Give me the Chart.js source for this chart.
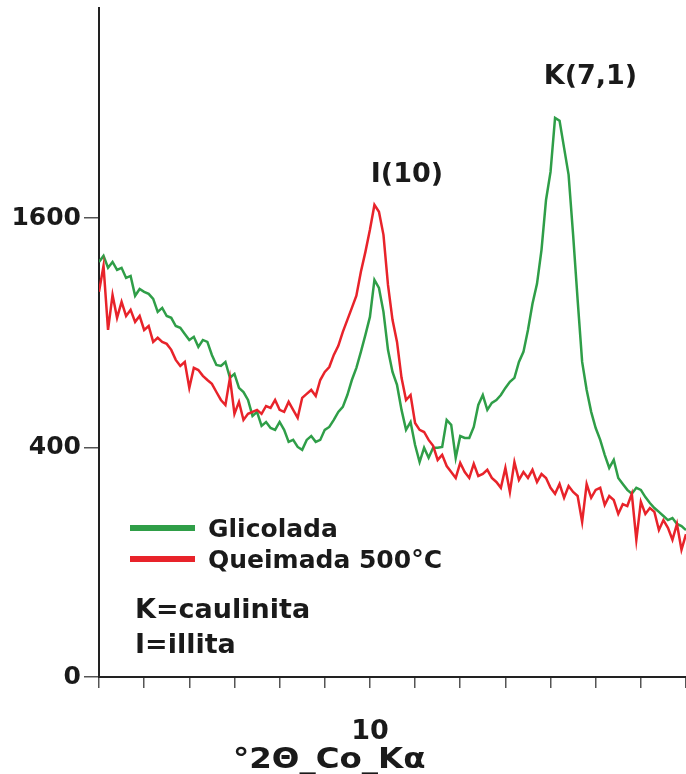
<!DOCTYPE html>
<html>
<head>
<meta charset="utf-8">
<script src="https://cdn.jsdelivr.net/npm/chart.js@4.4.1/dist/chart.umd.min.js"></script>
<style>
  html, body { margin: 0; padding: 0; background: #fff; }
</style>
</head>
<body>
<canvas id="xrd" width="686" height="774"></canvas>
<script>
// 2-theta positions (degrees, Co K-alpha)
const twoTheta = [
  4.0, 4.1, 4.2, 4.3, 4.4, 4.5, 4.6, 4.7, 4.8, 4.9,
  5.0, 5.1, 5.2, 5.3, 5.4, 5.5, 5.6, 5.7, 5.8, 5.9,
  6.0, 6.1, 6.2, 6.3, 6.4, 6.5, 6.6, 6.7, 6.8, 6.9,
  7.0, 7.1, 7.2, 7.3, 7.4, 7.5, 7.6, 7.7, 7.8, 7.9,
  8.0, 8.1, 8.2, 8.3, 8.4, 8.5, 8.6, 8.7, 8.8, 8.9,
  9.0, 9.1, 9.2, 9.3, 9.4, 9.5, 9.6, 9.7, 9.8, 9.9,
  10.0, 10.1, 10.2, 10.3, 10.4, 10.5, 10.6, 10.7, 10.8, 10.9,
  11.0, 11.1, 11.2, 11.3, 11.4, 11.5, 11.6, 11.7, 11.8, 11.9,
  12.0, 12.1, 12.2, 12.3, 12.4, 12.5, 12.6, 12.7, 12.8, 12.9,
  13.0, 13.1, 13.2, 13.3, 13.4, 13.5, 13.6, 13.7, 13.8, 13.9,
  14.0, 14.1, 14.2, 14.3, 14.4, 14.5, 14.6, 14.7, 14.8, 14.9,
  15.0, 15.1, 15.2, 15.3, 15.4, 15.5, 15.6, 15.7, 15.8, 15.9,
  16.0, 16.1, 16.2, 16.3, 16.4, 16.5, 16.6, 16.7, 16.8, 16.9,
  17.0
];

// intensities (counts) - glycolated sample
const glicolada = [
  1309, 1347, 1272, 1309, 1259, 1272, 1210, 1222, 1104, 1144,
  1127, 1115, 1086, 1013, 1035, 990, 980, 936, 926, 894,
  863, 879, 828, 863, 853, 788, 740, 735, 754, 680,
  698, 635, 617, 583, 518, 534, 479, 494, 471, 464,
  494, 464, 420, 427, 402, 392, 427, 441, 420, 427,
  464, 475, 502, 534, 554, 604, 670, 726, 803, 889,
  985, 1198, 1150, 1013, 813, 707, 648, 542, 464, 494,
  409, 351, 399, 365, 399, 399, 402, 502, 483, 365,
  441, 434, 434, 475, 562, 604, 542, 571, 583, 604,
  635, 662, 680, 754, 803, 915, 1058, 1174, 1386, 1729,
  1938, 2375, 2350, 2127, 1916, 1485, 1080, 754, 626, 534,
  471, 427, 375, 332, 358, 301, 283, 266, 255, 272,
  266, 246, 230, 217, 207, 197, 187, 192, 178, 173,
  164
];

// intensities (counts) - heated to 500 C
const queimada = [
  1127, 1284, 915, 1109, 980, 1069, 990, 1024, 958, 990,
  915, 936, 853, 874, 853, 843, 813, 764, 735, 754,
  635, 726, 716, 689, 670, 653, 617, 583, 562, 680,
  526, 575, 502, 526, 534, 542, 526, 558, 550, 583,
  542, 534, 575, 542, 510, 592, 609, 626, 600, 670,
  707, 730, 788, 833, 905, 969, 1035, 1104, 1247, 1373,
  1519, 1693, 1644, 1485, 1168, 969, 853, 680, 583, 604,
  490, 464, 456, 427, 406, 358, 375, 338, 319, 301,
  348, 319, 301, 345, 307, 313, 326, 301, 289, 272,
  332, 260, 351, 295, 319, 301, 326, 289, 313, 301,
  272, 255, 283, 244, 277, 260, 249, 183, 283, 244,
  266, 272, 225, 249, 238, 202, 227, 222, 255, 143,
  233, 202, 217, 207, 164, 187, 169, 143, 178, 123,
  155
];

const yTickValues = [0, 400, 1600];
const xLabelled = [10];
const xTitle = '°2Θ_Co_Kα';
const seriesNames = ['Glicolada', 'Queimada 500°C'];
const seriesColors = ['#2f9e48', '#e8232a'];
const peakLabels = [
  { text: 'I(10)', x: 10.02, y: 1860 },
  { text: 'K(7,1)', x: 13.85, y: 2670 }
];
const notes = ['K=caulinita', 'I=illita'];

const FONT = 'DejaVu Sans';

function toPoints(vals) {
  return twoTheta.map((t, i) => ({ x: t, y: Math.sqrt(vals[i]) }));
}

const textPlugin = {
  id: 'xrdText',
  afterDatasetsDraw(chart) {
    const ctx = chart.ctx;
    const xs = chart.scales.x, ys = chart.scales.y;
    const area = chart.chartArea;
    ctx.save();
    ctx.fillStyle = '#1a1a1a';
    ctx.font = 'bold 27px ' + FONT;
    ctx.textBaseline = 'alphabetic';
    ctx.textAlign = 'left';
    peakLabels.forEach(p => {
      ctx.fillText(p.text, xs.getPixelForValue(p.x), ys.getPixelForValue(Math.sqrt(p.y)));
    });

    // legend
    const lx = area.left + 31, ly = area.top + 520;
    seriesNames.forEach((name, i) => {
      const y = ly + i * 31;
      ctx.strokeStyle = seriesColors[i];
      ctx.lineWidth = 6;
      ctx.beginPath();
      ctx.moveTo(lx, y);
      ctx.lineTo(lx + 65, y);
      ctx.stroke();
      ctx.fillStyle = '#1a1a1a';
      ctx.font = 'bold 25px ' + FONT;
      ctx.fillText(name, lx + 78, y + 9);
    });

    ctx.font = 'bold 27px ' + FONT;
    notes.forEach((n, i) => {
      ctx.fillText(n, area.left + 36, area.top + 610 + i * 35);
    });

    // axis title, slightly widened like the original artwork
    ctx.font = 'bold 29px ' + FONT;
    ctx.translate(area.left + 134, area.bottom + 91);
    ctx.scale(1.12, 1);
    ctx.fillText(xTitle, 0, 0);
    ctx.restore();
  }
};

new Chart(document.getElementById('xrd'), {
  type: 'line',
  data: {
    datasets: [
      {
        label: seriesNames[1],
        data: toPoints(queimada),
        borderColor: seriesColors[1],
        borderWidth: 2.5,
        pointRadius: 0,
        tension: 0
      },
      {
        label: seriesNames[0],
        data: toPoints(glicolada),
        borderColor: seriesColors[0],
        borderWidth: 2.5,
        pointRadius: 0,
        tension: 0
      }
    ]
  },
  options: {
    responsive: false,
    animation: false,
    layout: { padding: { top: 8, right: 0, left: 0, bottom: 0 } },
    plugins: {
      legend: { display: false },
      tooltip: { enabled: false }
    },
    scales: {
      x: {
        type: 'linear',
        min: 4,
        max: 17,
        afterFit(scale) {
          scale.height = 97;
          scale.paddingLeft = 0;
          scale.paddingRight = 0;
        },
        ticks: {
          stepSize: 1,
          autoSkip: false,
          maxRotation: 0,
          padding: 28,
          color: '#1a1a1a',
          font: { family: FONT, size: 27, weight: 'bold' },
          callback: v => xLabelled.includes(v) ? String(v) : ''
        },
        grid: { drawOnChartArea: false, tickLength: 11, color: '#555', lineWidth: 1.5 },
        border: { color: '#222', width: 2 }
      },
      y: {
        type: 'linear',
        min: 0,
        max: Math.sqrt(3400),
        afterFit(scale) {
          scale.width = 99;
          scale.paddingTop = 0;
          scale.paddingBottom = 0;
        },
        afterBuildTicks(scale) {
          scale.ticks = yTickValues.map(v => ({ value: Math.sqrt(v) }));
        },
        ticks: {
          padding: 3,
          color: '#1a1a1a',
          font: { family: FONT, size: 25, weight: 'bold' },
          callback: v => String(Math.round(v * v))
        },
        grid: { drawOnChartArea: false, tickLength: 15, color: '#555', lineWidth: 1.5 },
        border: { color: '#222', width: 2 }
      }
    }
  },
  plugins: [textPlugin]
});
</script>
</body>
</html>
